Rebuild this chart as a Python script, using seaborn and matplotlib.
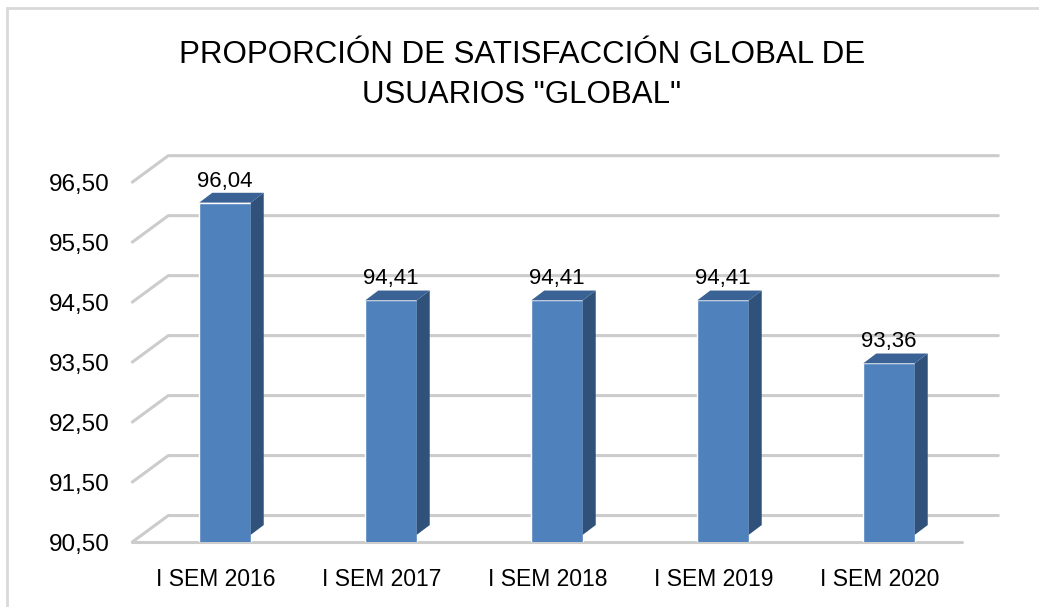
import numpy as np
import matplotlib
matplotlib.use("Agg")
from matplotlib import pyplot as plt
from matplotlib.patches import Polygon, Rectangle
import seaborn as sns

categories = ["I SEM 2016", "I SEM 2017", "I SEM 2018", "I SEM 2019", "I SEM 2020"]
values = [96.04, 94.41, 94.41, 94.41, 93.36]
y_ticks = [90.5, 91.5, 92.5, 93.5, 94.5, 95.5, 96.5]
title_lines = ["PROPORCIÓN DE SATISFACCIÓN GLOBAL DE", 'USUARIOS "GLOBAL"']

FRONT, SIDE, TOP = "#4F81BD", "#30517A", "#3A6295"
GRID = "#cccccc"
W, H = 1039, 607


def fmt(v):
    return "{:.2f}".format(v).replace(".", ",")


def px_to_data(ax, dx, dy):
    # pixel offset -> data offset (fake 3D depth)
    x0, x1 = ax.get_xlim()
    y0, y1 = ax.get_ylim()
    return dx * (x1 - x0) / ax.bbox.width, dy * (y1 - y0) / ax.bbox.height


sns.set_theme(style="white")
plt.rcParams["font.family"] = ["Liberation Sans", "DejaVu Sans"]
plt.rcParams["text.color"] = "black"

fig = plt.figure(figsize=(W / 100, H / 100), dpi=100)
ax = fig.add_axes([142 / W, (H - 542) / H, 830 / W, 367 / H])
sns.barplot(x=categories, y=values, color=FRONT, saturation=1, width=0.31,
            ax=ax, zorder=3)
ax.set_xlim(-0.5, len(categories) - 0.5)
ax.set_ylim(y_ticks[0], y_ticks[-1])
for s in ax.spines.values():
    s.set_visible(False)

# depth offsets
fx, fy = px_to_data(ax, -9.7, -7.3)    # front plane
bx, by = px_to_data(ax, 26.3, 19.7)    # back wall
ddx, ddy = px_to_data(ax, 13, 10)      # bar depth
xl, xr = ax.get_xlim()

for v in y_ticks:
    ax.plot([xl + fx, xl + bx, xr + bx], [v + fy, v + by, v + by],
            color=GRID, lw=2.2, clip_on=False, zorder=1)
ax.plot([xl + fx, xr + fx], [y_ticks[0] + fy] * 2, color=GRID, lw=2.2,
        clip_on=False, zorder=1)

# side/top faces + value labels
for p, v in zip(list(ax.patches), values):
    x0 = p.get_x()
    x1 = x0 + p.get_width()
    yt, yb = p.get_height(), y_ticks[0]
    ax.add_patch(Polygon([(x1, yb), (x1, yt), (x1 + ddx, yt + ddy), (x1 + ddx, yb + ddy)],
                         closed=True, fc=SIDE, ec="none", zorder=3, clip_on=False))
    ax.add_patch(Polygon([(x0, yt), (x1, yt), (x1 + ddx, yt + ddy), (x0 + ddx, yt + ddy)],
                         closed=True, fc=TOP, ec="none", zorder=3, clip_on=False))
    ax.annotate(fmt(v), (x0 + p.get_width() / 2, yt), xytext=(0, 11.5),
                textcoords="offset points", ha="center", va="baseline",
                fontsize=16, color="black")

ax.set_yticks(np.array(y_ticks) + fy, [fmt(v) for v in y_ticks])
ax.set_xticks(np.arange(len(categories)) + fx, categories)
ax.tick_params(axis="y", length=0, pad=23, labelsize=17.5, labelcolor="black")
ax.tick_params(axis="x", length=0, pad=19, labelsize=16.5, labelcolor="black")
ax.set_xlabel("")

for i, line in enumerate(title_lines):
    fig.text(522 / W, 1 - (63 + 40 * i) / H, line, ha="center", va="baseline",
             fontsize=22.5, color="black")

fig.add_artist(Rectangle((7 / W, -0.1), 1.2, 1 - 8 / H + 0.1, transform=fig.transFigure,
                         fill=False, ec="#d9d9d9", lw=2))

fig.savefig("out.png", dpi=100)
